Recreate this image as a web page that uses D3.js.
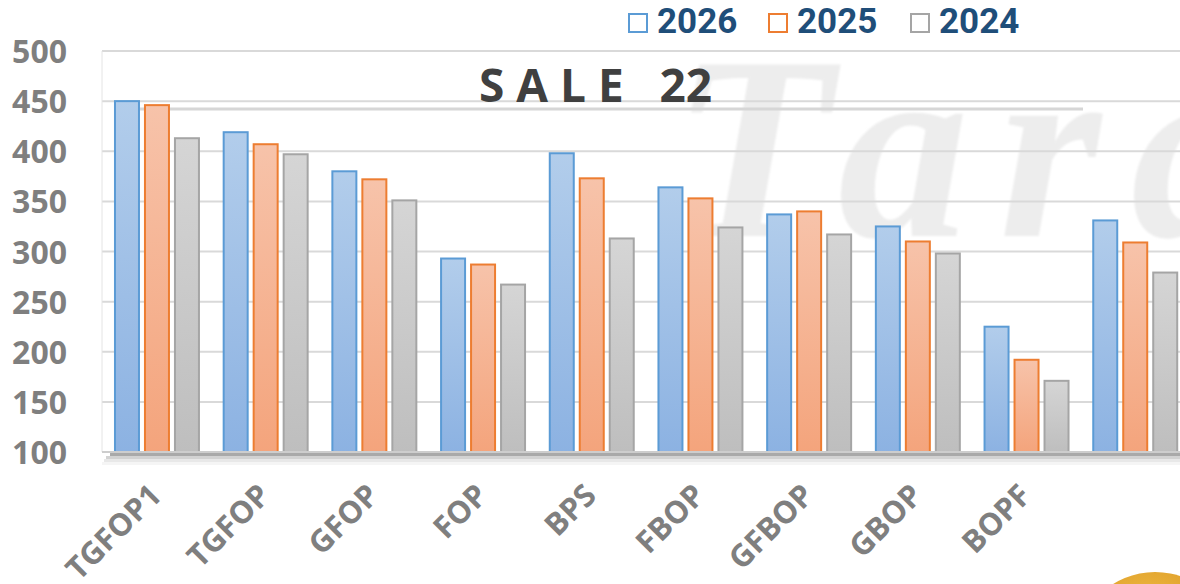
<!DOCTYPE html>
<html>
<head>
<meta charset="utf-8">
<script src="https://cdn.jsdelivr.net/npm/d3@7/dist/d3.min.js"></script>
<style>
  html, body { margin: 0; padding: 0; background: #fff; }
  svg { display: block; }
</style>
</head>
<body>
<svg id="chart" width="1180" height="584"></svg>
<script>
// Grade categories (the last group has no printed label)
const categories = ["TGFOP1", "TGFOP", "GFOP", "FOP", "BPS", "FBOP", "GFBOP", "GBOP", "BOPF", ""];
const seriesNames = ["2026", "2025", "2024"];
const values2026 = [450, 419, 380, 293, 398, 364, 337, 325, 225, 331];
const values2025 = [446, 407, 372, 287, 373, 353, 340, 310, 192, 309];
const values2024 = [413, 397, 351, 267, 313, 324, 317, 298, 171, 279];
const yTicks = [100, 150, 200, 250, 300, 350, 400, 450, 500];
const chartTitle = "S A L E   22";
const watermarkText = "Tara";

const seriesValues = { "2026": values2026, "2025": values2025, "2024": values2024 };
const palette = {
  "2026": { stroke: "#5b9bd5", top: "#b2cdeb", bottom: "#8cb2e2" },
  "2025": { stroke: "#ed7d31", top: "#f7c3aa", bottom: "#f4a47c" },
  "2024": { stroke: "#a5a5a5", top: "#d5d5d5", bottom: "#bebebe" }
};

const svg = d3.select("#chart");
const W = 1180, H = 584;
const plotLeft = 102;

const x = d3.scaleBand().domain(categories).range([103, 1189.2]).paddingInner(0.209).paddingOuter(0.101);
const xs = d3.scaleBand().domain(seriesNames).range([0, x.bandwidth()]).paddingInner(0.133).paddingOuter(0);
const y = d3.scaleLinear().domain([100, 500]).range([452, 51]);

// gradients for the bars
const defs = svg.append("defs");
seriesNames.forEach(s => {
  const g = defs.append("linearGradient").attr("id", "grad" + s)
    .attr("x1", 0).attr("y1", 0).attr("x2", 0).attr("y2", 1);
  g.append("stop").attr("offset", "0%").attr("stop-color", palette[s].top);
  g.append("stop").attr("offset", "100%").attr("stop-color", palette[s].bottom);
});
const coin = defs.append("radialGradient").attr("id", "coinGrad").attr("cx", "45%").attr("cy", "30%").attr("r", "70%");
coin.append("stop").attr("offset", "0%").attr("stop-color", "#f2c04a");
coin.append("stop").attr("offset", "100%").attr("stop-color", "#d38a14");
defs.append("filter").attr("id", "soft").append("feGaussianBlur").attr("stdDeviation", 1.2);

// background watermark
svg.append("text")
  .attr("x", 672).attr("y", 236)
  .attr("font-family", "'Liberation Serif', serif")
  .attr("font-style", "italic").attr("font-weight", 700)
  .attr("font-size", 262).attr("letter-spacing", 30)
  .attr("fill", "#ededed")
  .attr("filter", "url(#soft)")
  .text(watermarkText);

// horizontal gridlines
svg.append("g").selectAll("line")
  .data(yTicks.filter(t => t > 100))
  .join("line")
  .attr("x1", plotLeft).attr("x2", W)
  .attr("y1", d => y(d)).attr("y2", d => y(d))
  .attr("stroke", "#d9d9d9").attr("stroke-width", 2);

// left plot edge
svg.append("line")
  .attr("x1", plotLeft).attr("x2", plotLeft)
  .attr("y1", y(500)).attr("y2", y(100))
  .attr("stroke", "#e4e4e4").attr("stroke-width", 1);

// decorative rule under the title
svg.append("line")
  .attr("x1", 137).attr("x2", 1083).attr("y1", 109).attr("y2", 109)
  .attr("stroke", "#d6d6d6").attr("stroke-width", 3);

// bars
const groups = svg.append("g").selectAll("g")
  .data(categories)
  .join("g")
  .attr("transform", d => `translate(${x(d)},0)`);

groups.selectAll("rect")
  .data((c, i) => seriesNames.map(s => ({ s, v: seriesValues[s][i] })))
  .join("rect")
  .attr("x", d => xs(d.s) + 1)
  .attr("width", xs.bandwidth() - 2)
  .attr("y", d => y(d.v))
  .attr("height", d => y(100) - y(d.v))
  .attr("fill", d => `url(#grad${d.s})`)
  .attr("stroke", d => palette[d.s].stroke)
  .attr("stroke-width", 2);

// floor of the category axis
const floor = svg.append("g");
floor.append("rect").attr("x", plotLeft).attr("y", 451).attr("width", W - plotLeft).attr("height", 2).attr("fill", "#cdcdcd");
floor.append("rect").attr("x", plotLeft + 8).attr("y", 453).attr("width", W - plotLeft).attr("height", 3).attr("fill", "#a9a9a9");
floor.append("rect").attr("x", plotLeft + 4).attr("y", 456).attr("width", W - plotLeft).attr("height", 3).attr("fill", "#d2d2d2");
floor.append("rect").attr("x", plotLeft + 2).attr("y", 459).attr("width", W - plotLeft).attr("height", 3).attr("fill", "#e8e8e8");
floor.append("rect").attr("x", plotLeft).attr("y", 462).attr("width", W - plotLeft).attr("height", 3).attr("fill", "#f5f5f5");

// y axis labels
const yAxis = d3.axisLeft(y).tickValues(yTicks).tickSize(0).tickPadding(0);
const ya = svg.append("g").attr("transform", "translate(67,0)").call(yAxis);
ya.select(".domain").remove();
ya.selectAll("text")
  .attr("font-family", "'Open Sans', sans-serif")
  .attr("font-weight", 700).attr("font-size", 32)
  .attr("fill", "#7f7f7f")
  .attr("dy", "0.36em");

// x axis labels, rotated
const xAxis = d3.axisBottom(x).tickSize(0).tickPadding(0);
const xa = svg.append("g").attr("transform", "translate(0,480)").call(xAxis);
xa.select(".domain").remove();
xa.selectAll("text")
  .attr("font-family", "'Open Sans', sans-serif")
  .attr("font-weight", 700).attr("font-size", 31)
  .attr("fill", "#7f7f7f")
  .attr("text-anchor", "end")
  .attr("dy", "0.7em")
  .attr("transform", "translate(-9,2) rotate(-45)");

// title
svg.append("text")
  .attr("x", 479).attr("y", 102)
  .attr("font-family", "'Open Sans', sans-serif")
  .attr("font-weight", 700).attr("font-size", 46)
  .attr("fill", "#404040")
  .style("white-space", "pre")
  .text(chartTitle);

// legend
const legend = svg.append("g");
const legendX = [628, 768, 910];
seriesNames.forEach((s, i) => {
  legend.append("rect")
    .attr("x", legendX[i] + 1).attr("y", 14).attr("width", 18).attr("height", 18)
    .attr("fill", "#fff").attr("stroke", palette[s].stroke).attr("stroke-width", 2);
  legend.append("text")
    .attr("x", legendX[i] + 29).attr("y", 33)
    .attr("font-family", "Roboto, sans-serif")
    .attr("font-weight", 700).attr("font-size", 35)
    .attr("fill", "#1f4e79")
    .text(s);
});

// gold coin emblem in the corner
svg.append("circle").attr("cx", 1155).attr("cy", 651).attr("r", 79).attr("fill", "url(#coinGrad)");
</script>
</body>
</html>
